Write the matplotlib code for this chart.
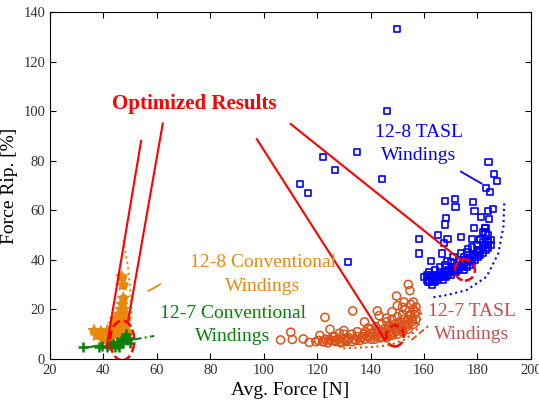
import matplotlib
matplotlib.use("Agg")
import matplotlib.pyplot as plt
from matplotlib.patches import Ellipse

plt.rcParams['font.family'] = ['Liberation Serif', 'DejaVu Serif']

# 12-8 TASL windings (blue squares)
tasl128_x = [150, 146, 122.2, 126.7, 134.9, 113.6, 116.6, 144.3, 131.5, 184.1, 186.2, 187.2,
             183.3, 184.7, 167.9, 171.6, 171.8, 178.2, 178.9, 183.9, 185.9, 184.2, 181.3, 168.2,
             167.9, 165.3, 178.7, 182.9, 182.2, 173.7, 168.8, 158.1, 167.5, 178, 180.9, 183.9,
             176.5, 173.7, 166.8, 158.1, 162.7, 168.8,
             160, 161, 161, 162, 162, 162, 163, 163, 163, 164, 164, 165, 165, 166, 166, 167, 167,
             168, 168, 169, 169, 170, 170, 171, 171, 172, 172, 173, 173, 174, 175, 175, 176, 176,
             177, 177, 178, 178, 179, 179, 180, 180, 181, 181, 182, 182, 182, 183, 183, 184, 184,
             185, 185, 184, 183, 183, 181, 180, 178, 176, 175, 173, 171, 170, 168, 166, 164,
             161.5, 163.5, 165.5, 167.5, 169.5, 171.5, 173.5, 174.5, 176.5, 178.5, 180.5, 182.5]
tasl128_y = [133, 100, 81.5, 76.2, 83.5, 70.6, 67, 72.6, 39.1, 79.6, 74.6, 71.7,
             68.9, 67.5, 63.6, 64.4, 61.4, 63.3, 59.7, 59.6, 60.5, 56.6, 57.2, 57,
             54.3, 50.1, 52.7, 52.7, 51.1, 49.1, 48.3, 48.3, 46.7, 48.3, 48.4, 47.3,
             44.5, 42.6, 42.6, 42.6, 39.5, 39.7,
             33, 32, 34, 31, 33, 35, 30, 32, 34, 31, 33, 32, 34, 33, 35, 32, 34,
             33, 35, 34, 36, 34, 36, 35, 37, 35, 37, 36, 38, 37, 36, 38, 37, 39,
             38, 40, 39, 41, 40, 42, 41, 43, 42, 44, 43, 45, 47, 44, 46, 45, 47,
             46, 48, 50, 51, 53, 48, 46, 45, 43, 41, 40, 41, 39, 38, 37, 36,
             31, 31.5, 33, 33.5, 35, 36, 37, 38.5, 40, 42, 44, 46]

# 12-7 TASL windings (orange circles)
tasl127_x = [106.3, 110.7, 110.1, 114.8, 117, 122.9, 124.8, 128.3, 133.3, 137.7, 142.5, 143.2,
             149.7, 151.9, 154.1, 154.7, 119.5, 121, 126.5, 130, 131, 139, 146, 148, 150, 152.5,
             122, 123, 124, 125, 126, 127, 128, 129, 130, 130, 131, 132, 133, 133, 134, 135, 135,
             136, 137, 138, 138, 139, 140, 140, 141, 142, 142, 143, 144, 144, 145, 145, 146, 146,
             147, 147, 148, 148, 149, 149, 150, 150, 151, 151, 152, 152, 153, 153, 154, 154, 155,
             155, 156, 156, 156, 157, 157,
             120.5, 122.5, 124.5, 126.5, 128.5, 131.5, 134.5, 136.5, 139.5, 141.5, 143.5, 145.5,
             147.5, 149.5, 151.5, 153.5, 155.5, 144.5, 146.5, 148.5, 150.5, 152.5, 154.5, 156.5,
             137.5, 140.5, 142.5, 146, 148, 150, 152, 154, 155.5, 157]
tasl127_y = [7.7, 7.9, 10.8, 8.1, 6.7, 16.8, 12, 10.4, 19.4, 15, 19.4, 17.5,
             25.4, 20.9, 30.1, 27.6, 7, 9.5, 9, 11.5, 7.5, 12.5, 16.5, 19, 21.5, 23,
             7, 8, 6.5, 7.5, 9, 7, 8, 6.5, 8, 10, 7, 8.5, 7, 10, 8, 9, 11,
             7.5, 9, 8, 11, 9.5, 8, 12, 10, 9, 13, 11, 9, 14, 10, 12, 8.5, 15,
             11, 13, 9.5, 16, 12, 14, 10, 17, 13, 15, 11, 18, 14, 20, 12, 16, 18,
             22, 14, 20, 23, 16, 19,
             7.5, 7, 8, 7.5, 7, 8, 7.5, 8.5, 9, 8, 8.5, 9,
             10, 11, 12, 13, 15, 11, 12, 13, 14.5, 16, 17.5, 18,
             10, 10.5, 11.5, 9.5, 10.5, 12, 13, 14, 16, 21]

# 12-8 conventional windings (orange stars)
conv128_x = [46.8, 47.2, 47.4, 36.5, 47, 47.5, 48, 46, 46.5, 47.5, 45, 46, 44, 43, 42, 40,
             39, 38, 41, 43, 45, 47, 48, 48.5, 49, 44, 45.5, 40, 42, 37.5, 41.5, 44.5, 46.5]
conv128_y = [33.2, 29.9, 24.5, 11.5, 22, 20, 18, 18, 16, 15, 14, 13, 12, 11, 10, 10,
             11, 10, 9, 9, 10, 12, 13, 16, 11, 14, 12, 8, 8, 9.5, 11.5, 16, 20]

# 12-7 conventional windings (green pluses)
conv127_x = [32.5, 38.3, 39.5, 41.5, 42.5, 43.5, 44.5, 45.5, 46.5, 47, 47.5, 48, 48.5, 49,
             49.5, 50, 46, 45]
conv127_y = [5, 5, 5.2, 4.8, 5.5, 6, 5, 5.8, 6.5, 8, 7, 9, 10, 7.5, 8.5, 6.5, 5, 7]

# "Optimized Results" pointer lines: (x0, x1), (y0, y1)
opt_lines = [((54.1, 41.2), (88, 5)),
             ((62.2, 49.3), (95, 15.7)),
             ((97.4, 145.4), (88.7, 7.7)),
             ((110.1, 174.6), (94.8, 39.2))]
# dashed ellipses around optimum: (x, y, width, height)
opt_ellipses = [(47, 7.5, 9, 16), (149.1, 9.3, 6.5, 8.5), (175.3, 35.9, 7.5, 8.5)]

# guide curves
blue_arc_x = [190, 189.7, 187.8, 183.4, 175.9, 168.5, 162.2]
blue_arc_y = [62.8, 53.4, 42.6, 33.2, 27.8, 25.8, 24.7]
orange_arc_x = [129.8, 140, 147.3, 153, 157.2, 158.5, 159.1]
orange_arc_y = [4.3, 4.8, 5.6, 8, 11.7, 15, 19.8]
conv_arc_x = [47.5, 49.3, 50, 50.5]
conv_arc_y = [48, 36, 28, 17]

c_blue = '#0000FF'
c_circ = '#D95319'
c_star = '#E8890C'
c_green = '#0A7F0A'
c_red = '#FF0000'
c_tasl127 = '#C0504D'

fig = plt.figure(figsize=(5.39, 4.07), dpi=100)
ax = fig.add_axes([0.0928, 0.1179, 0.8922, 0.8526])

ax.scatter(conv128_x, conv128_y, marker='*', s=70, facecolors='none', edgecolors=c_star, linewidths=1.0)
ax.scatter(conv128_x, conv128_y, marker='o', s=40, color=c_star, linewidths=0)
ax.plot([33, 59], [4.5, 9.3], color=c_green, lw=1.5, ls='-.')
ax.scatter(conv127_x, conv127_y, marker='+', s=50, color=c_green, linewidths=1.8)
ax.scatter(tasl127_x, tasl127_y, marker='o', s=34, facecolors='none', edgecolors=c_circ, linewidths=1.1)
ax.scatter(tasl128_x, tasl128_y, marker='s', s=20, facecolors='none', edgecolors=c_blue, linewidths=1.2)

ax.plot(blue_arc_x, blue_arc_y, color=c_blue, lw=1.5, ls=':')
ax.plot(orange_arc_x, orange_arc_y, color=c_circ, lw=1.5, ls=':')
ax.plot(conv_arc_x, conv_arc_y, color=c_star, lw=1.5, ls=':')

for xs, ys in opt_lines:
    ax.plot(xs, ys, color=c_red, lw=1.5)
for ex, ey, ew, eh in opt_ellipses:
    ax.add_patch(Ellipse((ex, ey), ew, eh, fill=False, edgecolor=c_red, lw=1.8, ls='--'))

# label pointers
ax.plot([173.8, 181.5], [75.6, 70.8], color=c_blue, lw=1.3)
ax.plot([56.8, 61.2], [27.4, 30.1], color=c_star, lw=1.3)
ax.plot([155.3, 161.6], [7.7, 13.3], color=c_circ, lw=1.3, ls='--')

ax.text(74.1, 102.9, 'Optimized Results', color=c_red, fontsize=15, fontweight='bold',
        ha='center', va='center')
ax.text(158.1, 86.7, '12-8 TASL\nWindings', color=c_blue, fontsize=14, ha='center',
        va='center', linespacing=1.5)
ax.text(99.7, 34, '12-8 Conventional\nWindings', color=c_star, fontsize=14, ha='center',
        va='center', linespacing=1.5)
ax.text(88.5, 13.7, '12-7 Conventional\nWindings', color=c_green, fontsize=14, ha='center',
        va='center', linespacing=1.5)
ax.text(177.9, 14.5, '12-7 TASL\nWindings', color=c_tasl127, fontsize=14, ha='center',
        va='center', linespacing=1.5)

ax.set_xlim(20, 200)
ax.set_ylim(0, 140)
ax.set_xticks(range(20, 201, 20))
ax.set_yticks(range(0, 141, 20))
ax.tick_params(direction='in', top=True, right=True, labelsize=10.5, labelcolor='#333333', length=4)
ax.set_xlabel('Avg. Force [N]', fontsize=14)
ax.set_ylabel('Force Rip. [%]', fontsize=14)

fig.savefig('out.png', dpi=100)
